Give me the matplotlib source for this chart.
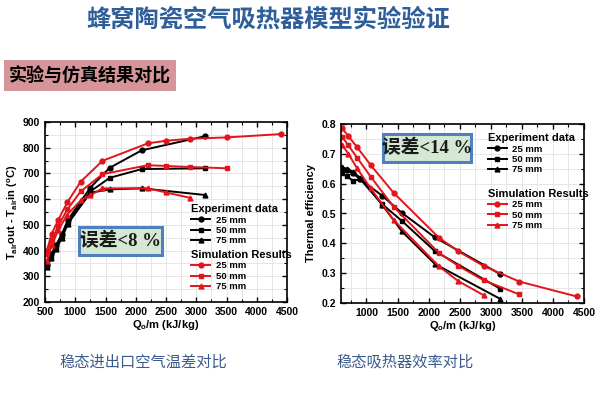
import matplotlib
matplotlib.use('Agg')
import matplotlib.pyplot as plt
from matplotlib.patches import Rectangle
from matplotlib.ticker import MultipleLocator

plt.rcParams['font.family'] = ['Liberation Sans', 'Noto Sans CJK SC']
plt.rcParams['font.weight'] = 'bold'
plt.rcParams['mathtext.default'] = 'regular'

CJK = ['Noto Sans CJK SC', 'DejaVu Sans']

# ---- data: left chart, outlet-inlet air temperature difference ----
exp_x_l = [530, 600, 680, 780, 880, 1250, 1570, 2100, 3150]
exp25_l = [345, 385, 420, 465, 520, 645, 722, 790, 845]
exp50_l = [340, 375, 410, 455, 510, 630, 683, 717, 720]
exp75_l = [335, 370, 405, 450, 505, 625, 638, 642, 616]

sim25_x_l = [530, 610, 720, 870, 1090, 1450, 2200, 2500, 2900, 3500, 4400]
sim25_l = [400, 465, 520, 588, 668, 749, 817, 827, 835, 840, 853]
sim50_x_l = [530, 610, 720, 870, 1090, 1450, 2200, 2500, 2900, 3500]
sim50_l = [385, 440, 497, 560, 630, 697, 732, 729, 725, 720]
sim75_x_l = [530, 610, 720, 870, 1090, 1250, 1450, 2200, 2500, 2900]
sim75_l = [360, 420, 480, 540, 595, 615, 642, 642, 626, 605]

# ---- data: right chart, thermal efficiency ----
exp_x_r = [610, 680, 780, 900, 1250, 1570, 2100, 3150]
exp25_r = [0.650, 0.645, 0.635, 0.615, 0.560, 0.502, 0.420, 0.297]
exp50_r = [0.635, 0.625, 0.610, 0.615, 0.532, 0.475, 0.374, 0.248]
exp75_r = [0.655, 0.650, 0.640, 0.620, 0.530, 0.440, 0.331, 0.214]

sim25_x_r = [610, 706, 850, 1069, 1438, 2165, 2480, 2886, 3457, 4380]
sim25_r = [0.785, 0.760, 0.722, 0.662, 0.569, 0.419, 0.373, 0.324, 0.272, 0.222]
sim50_x_r = [610, 706, 850, 1069, 1438, 2165, 2480, 2886, 3457]
sim50_r = [0.757, 0.729, 0.687, 0.623, 0.522, 0.368, 0.324, 0.276, 0.229]
sim75_x_r = [610, 706, 850, 1069, 1438, 2165, 2480, 2886]
sim75_r = [0.729, 0.701, 0.651, 0.584, 0.478, 0.323, 0.273, 0.226]

sizes = ['25 mm', '50 mm', '75 mm']
markers = ['o', 's', '^']
RED = '#e3141b'

W, H = 600, 395


def fx(x):
    return x / W


def fy(y):
    return 1 - y / H


fig = plt.figure(figsize=(6, 3.95), dpi=100)

fig.text(fx(268), fy(20), '蜂窝陶瓷空气吸热器模型实验验证', family=CJK, fontsize=17.5,
         color='#2f5f9b', fontweight='bold', ha='center', va='center')
fig.patches.append(Rectangle((fx(4), fy(91)), 172 / W, 31 / H, transform=fig.transFigure,
                             facecolor='#d6959a', edgecolor='none'))
fig.text(fx(90), fy(76), '实验与仿真结果对比', family=CJK, fontsize=13,
         color='black', fontweight='bold', ha='center', va='center')


def setup(ax):
    ax.set_facecolor('white')
    ax.grid(True, which='both', color='#e2e2e2', lw=0.6)
    ax.set_axisbelow(True)
    ax.tick_params(which='both', direction='in', top=True, right=True, labelsize=7.5)
    ax.tick_params(which='major', length=3.5, width=1)
    ax.tick_params(which='minor', length=2, width=0.8)
    for s in ax.spines.values():
        s.set_linewidth(1.2)
    for lab in ax.get_xticklabels() + ax.get_yticklabels():
        lab.set_fontweight('bold')


def legends(ax, exp_anchor, sim_anchor):
    h_exp = [plt.Line2D([], [], color='black', marker=m, ms=3.5, lw=1.4) for m in markers]
    h_sim = [plt.Line2D([], [], color=RED, marker=m, ms=3.5, lw=1.4) for m in markers]
    kw = dict(frameon=False, handlelength=2.0, handletextpad=0.6,
              labelspacing=0.15, borderpad=0, alignment='left',
              title_fontproperties={'weight': 'bold', 'size': 8, 'family': 'Liberation Sans'},
              loc='upper left', prop={'weight': 'bold', 'size': 6.8})
    l1 = ax.legend(h_exp, sizes, title='Experiment data', bbox_to_anchor=exp_anchor, **kw)
    ax.add_artist(l1)
    ax.legend(h_sim, sizes, title='Simulation Results', bbox_to_anchor=sim_anchor, **kw)


# left chart
ax1 = fig.add_axes([fx(45), fy(302), 242 / W, 180 / H])
for ys, m in zip([exp25_l, exp50_l, exp75_l], markers):
    ax1.plot(exp_x_l, ys, color='black', marker=m, ms=3.5, lw=1.4)
for xs, ys, m in zip([sim25_x_l, sim50_x_l, sim75_x_l], [sim25_l, sim50_l, sim75_l], markers):
    ax1.plot(xs, ys, color=RED, marker=m, ms=3.5, lw=1.4)
ax1.set_xlim(500, 4500)
ax1.set_ylim(200, 900)
ax1.xaxis.set_major_locator(MultipleLocator(500))
ax1.xaxis.set_minor_locator(MultipleLocator(250))
ax1.yaxis.set_major_locator(MultipleLocator(100))
ax1.yaxis.set_minor_locator(MultipleLocator(50))
setup(ax1)
ax1.set_xlabel(r'Q$_o$/m (kJ/kg)', fontsize=8, fontweight='bold', labelpad=1)
ax1.set_ylabel(r'T$_{air}$out - T$_{air}$in ($^o$C)', fontsize=8, fontweight='bold', labelpad=2)
legends(ax1, (0.585, 0.57), (0.585, 0.315))

# right chart
ax2 = fig.add_axes([fx(341), fy(303), 243 / W, 179 / H])
for ys, m in zip([exp25_r, exp50_r, exp75_r], markers):
    ax2.plot(exp_x_r, ys, color='black', marker=m, ms=3.5, lw=1.4)
for xs, ys, m in zip([sim25_x_r, sim50_x_r, sim75_x_r], [sim25_r, sim50_r, sim75_r], markers):
    ax2.plot(xs, ys, color=RED, marker=m, ms=3.5, lw=1.4)
ax2.set_xlim(590, 4500)
ax2.set_ylim(0.2, 0.8)
ax2.xaxis.set_major_locator(MultipleLocator(500))
ax2.xaxis.set_minor_locator(MultipleLocator(250))
ax2.yaxis.set_major_locator(MultipleLocator(0.1))
ax2.yaxis.set_minor_locator(MultipleLocator(0.05))
setup(ax2)
ax2.set_xticks([1000, 1500, 2000, 2500, 3000, 3500, 4000, 4500])
ax2.set_xlabel(r'Q$_o$/m (kJ/kg)', fontsize=8, fontweight='bold', labelpad=1)
ax2.set_ylabel('Thermal efficiency', fontsize=8, fontweight='bold', labelpad=4)
legends(ax2, (0.585, 0.975), (0.585, 0.665))

# error boxes
for (x0, y0, x1, y1, txt) in [(79, 227, 162, 255, '误差<8 %'), (383, 134, 471, 162, '误差<14 %')]:
    fig.patches.append(Rectangle((fx(x0), fy(y1)), (x1 - x0) / W, (y1 - y0) / H,
                                 transform=fig.transFigure, facecolor='#d5e8d3',
                                 edgecolor='#4f7fbf', lw=2.2, zorder=5))
    fig.text(fx((x0 + x1) / 2), fy((y0 + y1) / 2), txt,
             family=['Liberation Serif', 'Noto Sans CJK SC'], fontsize=13.5,
             ha='center', va='center', color='#1a1a1a', fontweight='bold', zorder=6)

# captions
fig.text(fx(143), fy(362), '稳态进出口空气温差对比', family=CJK, fontsize=11,
         color='#3b5b8c', ha='center', va='center', fontweight='normal')
fig.text(fx(405), fy(362), '稳态吸热器效率对比', family=CJK, fontsize=11,
         color='#3b5b8c', ha='center', va='center', fontweight='normal')

fig.savefig('out.png', dpi=100)
